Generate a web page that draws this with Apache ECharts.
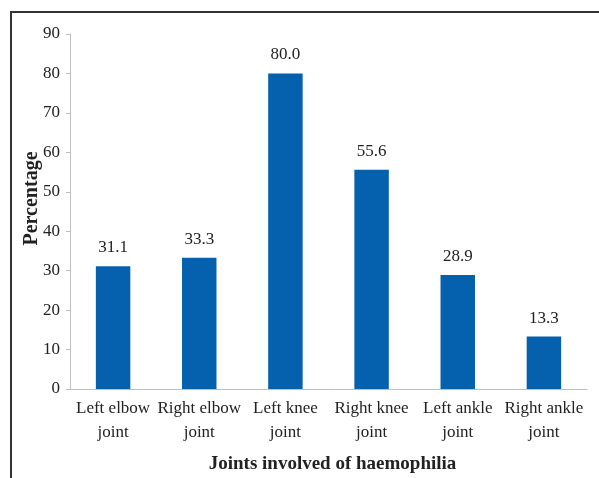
<!DOCTYPE html>
<html>
<head>
<meta charset="utf-8">
<script src="https://cdn.jsdelivr.net/npm/echarts@6/dist/echarts.min.js"></script>
<style>
  html, body { margin: 0; padding: 0; background: #fff; }
  #frame { position: absolute; left: 10px; top: 11px; width: 600px; height: 480px;
           border-left: 2px solid #333; border-top: 2px solid #333; }
  #chart { position: absolute; left: 0; top: 0; width: 599px; height: 478px; }
</style>
</head>
<body>
<div id="frame"></div>
<div id="chart"></div>
<script>
// 数据
const categories = ['Left elbow\njoint', 'Right elbow\njoint', 'Left knee\njoint',
  'Right knee\njoint', 'Left ankle\njoint', 'Right ankle\njoint']
const percentages = [31.1, 33.3, 80.0, 55.6, 28.9, 13.3]
const yTicks = { min: 0, max: 90, interval: 10 }

const font = 'Liberation Serif, Times New Roman, serif'
const chart = echarts.init(document.getElementById('chart'))

chart.setOption({
  animation: false,
  grid: { left: 70, right: 12, top: 34, bottom: 89, outerBoundsMode: 'none' },
  xAxis: {
    type: 'category',
    data: categories,
    name: 'Joints involved of haemophilia',
    nameLocation: 'middle',
    nameGap: 66,
    nameMoveOverlap: false,
    nameTextStyle: { fontFamily: font, fontSize: 19, fontWeight: 'bold', color: '#222', padding: [0, 0, 0, 8] },
    axisLine: { lineStyle: { color: '#bfbfbf', width: 1 } },
    axisTick: { show: false },
    axisLabel: { fontFamily: font, fontSize: 17, color: '#222', lineHeight: 24, margin: 8, interval: 0 }
  },
  yAxis: {
    type: 'value',
    min: yTicks.min,
    max: yTicks.max,
    interval: yTicks.interval,
    name: 'Percentage',
    nameLocation: 'middle',
    nameGap: 28,
    nameMoveOverlap: false,
    nameTextStyle: { fontFamily: font, fontSize: 20, fontWeight: 'bold', color: '#222', padding: [0, 0, 0, 26] },
    axisLine: { show: true, lineStyle: { color: '#bfbfbf', width: 1 } },
    axisTick: { show: true, length: 4, lineStyle: { color: '#bfbfbf' } },
    axisLabel: { fontFamily: font, fontSize: 17, color: '#222', margin: 10 },
    splitLine: { show: false }
  },
  series: [{
    type: 'bar',
    data: percentages,
    barWidth: '40%',
    itemStyle: { color: '#0561ae' },
    label: {
      show: true,
      position: 'top',
      distance: 10,
      fontFamily: font,
      fontSize: 17,
      color: '#222',
      formatter: p => p.value.toFixed(1)
    }
  }]
})
</script>
</body>
</html>
